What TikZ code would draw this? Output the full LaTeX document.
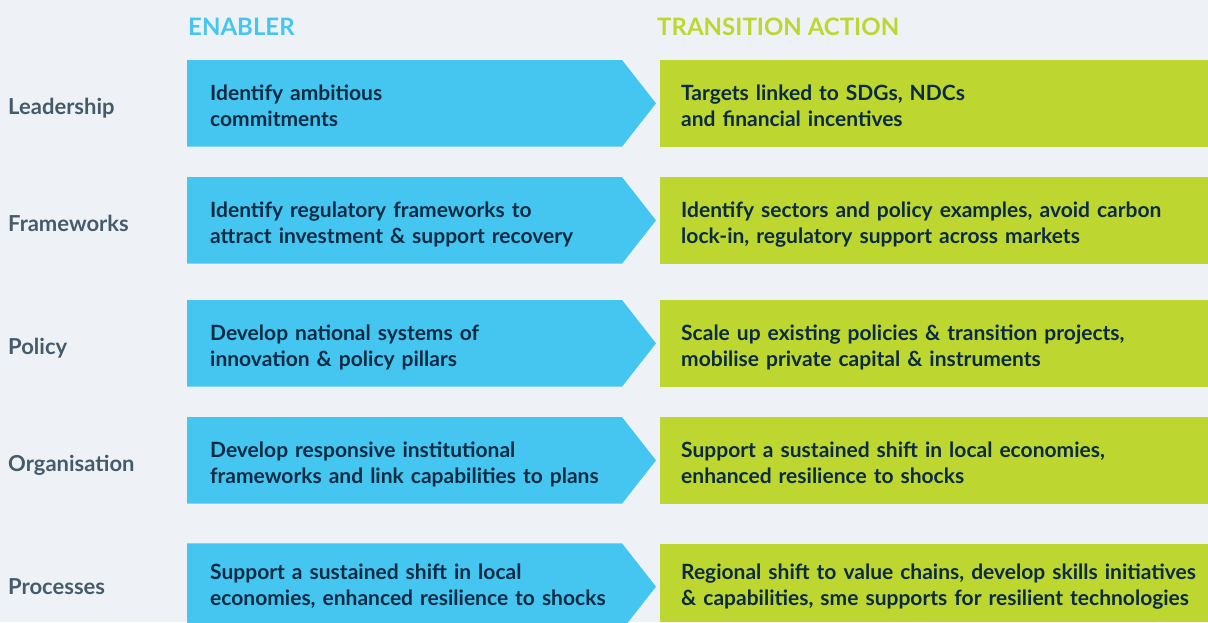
\documentclass[tikz,border=0pt]{standalone}
\usepackage{fontspec}
\setmainfont{Lato}
\usepackage{tikz}
\usetikzlibrary{positioning}

\definecolor{bgcol}{HTML}{EEF2F6}
\definecolor{enblue}{HTML}{44C6F0}
\definecolor{tagreen}{HTML}{BDD630}
\definecolor{navy}{HTML}{0B2B45}
\definecolor{labgray}{HTML}{465B6A}

\tikzset{
  boxtext/.style={text=navy, align=left, inner ysep=0pt, anchor=north west,
    text height=22pt, text depth=28pt,
    font=\fontsize{21}{26}\selectfont\bfseries},
  enabler/.style={boxtext, text width=440pt, inner xsep=23pt},
  action/.style={boxtext, fill=tagreen, text width=530pt, inner xsep=21pt},
  rowlabel/.style={text=labgray, anchor=base west, inner sep=0pt,
    font=\fontsize{22}{26}\selectfont\bfseries},
  header/.style={anchor=base west, inner sep=0pt,
    font=\fontsize{24}{28}\selectfont\bfseries}
}

\begin{document}
\begin{tikzpicture}[x=1pt,y=-1pt]
  \useasboundingbox (0,0) rectangle (1208,622);
  \fill[bgcol] (0,0) rectangle (1208,622);

  \node[header, text=enblue] (enhead) at (188,35) {ENABLER};
  \node[header, text=tagreen] (tahead) at (657,35) {TRANSITION ACTION};

  % rows: top / height / label / enabler / transition action
  \foreach \t/\h/\lab/\en/\ta [count=\i] in {
    60/86.7/Leadership/{Identify ambitious\\commitments}/{Targets linked to SDGs, NDCs\\and financial incentives},
    177/86.7/Frameworks/{Identify regulatory frameworks to\\attract investment \& support recovery}/{Identify sectors and policy examples, avoid carbon\\lock-in, regulatory support across markets},
    300/86.7/Policy/{Develop national systems of\\innovation \& policy pillars}/{Scale up existing policies \& transition projects,\\mobilise private capital \& instruments},
    417/86.7/Organisation/{Develop responsive institutional\\frameworks and link capabilities to plans}/{Support a sustained shift in local economies,\\enhanced resilience to shocks},
    543.3/78.7/Processes/{Support a sustained shift in local\\economies, enhanced resilience to shocks}/{Regional shift to value chains, develop skills initiatives\\\& capabilities, sme supports for resilient technologies}}
  {
    \fill[enblue] (187,\t) -- (622,\t) -- ++(34,43.35) -- ++(-34,43.35) -- (187,\t+86.7) -- cycle;
    \node[enabler, minimum height=\h pt] (en\i) at (187,\t) {\en};
    \node[action, minimum height=\h pt] (ta\i) at (660,\t) {\ta};
    \node[rowlabel] (lab\i) at (8,\t+\h/2+11.5) {\lab};
  }
\end{tikzpicture}
\end{document}
